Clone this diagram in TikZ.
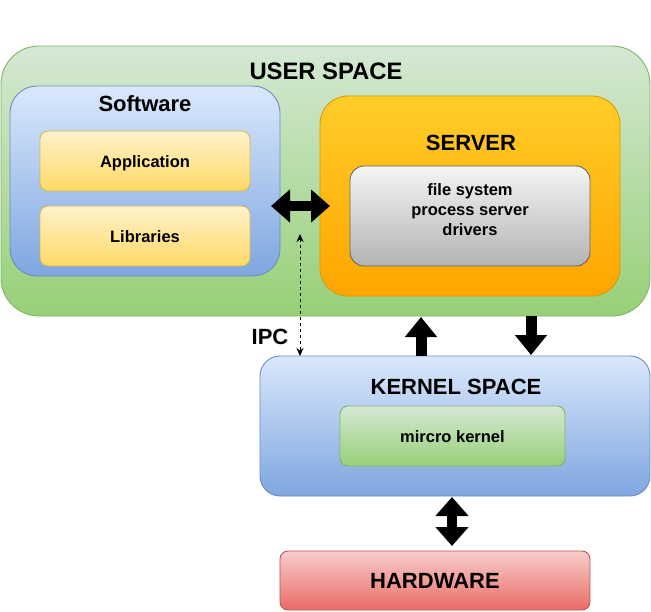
\documentclass[tikz,border=0pt]{standalone}
\usepackage{fontspec}
\setmainfont{Liberation Sans}
\usetikzlibrary{arrows.meta}
\definecolor{gTop}{HTML}{D5E8D4}\definecolor{gBot}{HTML}{97D077}\definecolor{gLine}{HTML}{82B366}
\definecolor{bTop}{HTML}{DAE8FC}\definecolor{bBot}{HTML}{7EA6E0}\definecolor{bLine}{HTML}{6C8EBF}
\definecolor{yTop}{HTML}{FFF2CC}\definecolor{yBot}{HTML}{FFD966}\definecolor{yLine}{HTML}{D6B656}
\definecolor{oTop}{HTML}{FFCD28}\definecolor{oBot}{HTML}{FFA500}\definecolor{oLine}{HTML}{D79B00}
\definecolor{sTop}{HTML}{F5F5F5}\definecolor{sBot}{HTML}{B3B3B3}\definecolor{sLine}{HTML}{666666}
\definecolor{rTop}{HTML}{F8CECC}\definecolor{rBot}{HTML}{EA6B66}\definecolor{rLine}{HTML}{B85450}
\tikzset{
  box/.style={rectangle, inner sep=0pt, outer sep=0pt, line width=0.9pt},
  greenbox/.style={box, draw=gLine, top color=gTop, bottom color=gBot},
  bluebox/.style={box, draw=bLine, top color=bTop, bottom color=bBot},
  yellowbox/.style={box, draw=yLine, top color=yTop, bottom color=yBot},
  orangebox/.style={box, draw=oLine, top color=oTop, bottom color=oBot},
  graybox/.style={box, draw=sLine, top color=sTop, bottom color=sBot},
  redbox/.style={box, draw=rLine, top color=rTop, bottom color=rBot},
  title/.style={inner sep=0pt, font=\fontsize{22}{26}\selectfont\bfseries},
  bigtitle/.style={inner sep=0pt, font=\fontsize{23.8}{28}\selectfont\bfseries},
  small/.style={inner sep=0pt, align=center, font=\fontsize{16.5}{20}\selectfont\bfseries},
  blockarrow/.style={line width=10pt, black, {Triangle[length=19pt,width=32pt]}-{Triangle[length=19pt,width=32pt]}},
  singlearrow/.style={line width=11pt, black, -{Triangle[length=20pt,width=31pt]}},
}
\begin{document}
\begin{tikzpicture}[x=1pt,y=-1pt]
\useasboundingbox (0,0) rectangle (651,611);
% boxes
\node[greenbox, minimum width=649, minimum height=270, rounded corners=38pt] (user) at (325.5,181) {};
\node[bluebox, minimum width=270, minimum height=190, rounded corners=27pt] (sw) at (145,181) {};
\node[yellowbox, minimum width=210, minimum height=60, rounded corners=8pt] (app) at (145,161) {};
\node[yellowbox, minimum width=210, minimum height=60, rounded corners=8pt] (lib) at (145,236) {};
\node[orangebox, minimum width=300, minimum height=200, rounded corners=28pt] (srv) at (470,196) {};
\node[graybox, minimum width=240, minimum height=100, rounded corners=14pt] (fs) at (470,216) {};
\node[bluebox, minimum width=390, minimum height=140, rounded corners=20pt] (kern) at (455,426) {};
\node[greenbox, minimum width=225, minimum height=60, rounded corners=8pt] (micro) at (452.5,436) {};
\node[redbox, minimum width=310, minimum height=59, rounded corners=8pt] (hw) at (435,580.5) {};
% texts
\node[bigtitle] (tuser) at (326,71) {USER SPACE};
\node[title] (tsw) at (145,104) {Software};
\node[small] (tapp) at ([yshift=-2pt]app.center) {Application};
\node[small] (tlib) at ([yshift=-1pt]lib.center) {Libraries};
\node[title] (tsrv) at (471,143) {SERVER};
\node[small] (tfs) at (470,210) {file system\\process server\\drivers};
\node[title] (tipc) at (270,337) {IPC};
\node[title] (tkern) at (456,387) {KERNEL SPACE};
\node[small] (tmicro) at ([yshift=-1pt]micro.center) {mircro kernel};
\node[title] (thw) at (hw.center) {HARDWARE};
% connector end points
\coordinate (h1) at (271,206);
\coordinate (h2) at (330,206);
\coordinate (ipcA) at (300,234);
\coordinate (ipcB) at (300,356);
\coordinate (upA) at (421,356);
\coordinate (upB) at (421,317);
\coordinate (dnA) at (531,316);
\coordinate (dnB) at (531,355);
\coordinate (hwA) at (452,497);
\coordinate (hwB) at (452,546);
% connectors
\draw[blockarrow] (h1) -- (h2);
\draw[line width=1pt, dash pattern=on 3pt off 3pt, {Stealth[length=8pt,width=7pt]}-{Stealth[length=8pt,width=7pt]}] (ipcA) -- (ipcB);
\draw[singlearrow] (upA) -- (upB);
\draw[singlearrow] (dnA) -- (dnB);
\draw[blockarrow] (hwA) -- (hwB);
\end{tikzpicture}
\end{document}
